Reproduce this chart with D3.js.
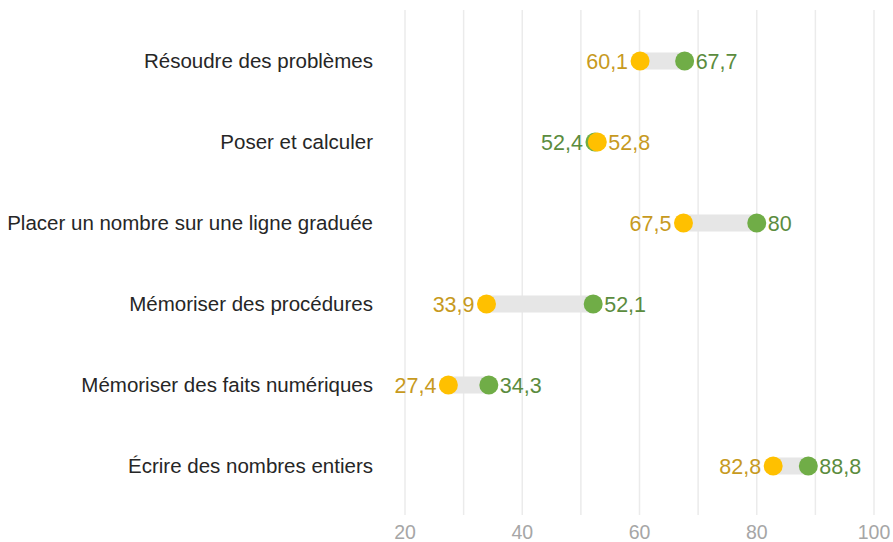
<!DOCTYPE html>
<html>
<head>
<meta charset="utf-8">
<script src="https://cdn.jsdelivr.net/npm/d3@7"></script>
<style>
  body { margin: 0; background: #fff; }
  svg { font-family: "Liberation Sans", Arial, sans-serif; }
</style>
</head>
<body>
<svg id="chart" width="893" height="542"></svg>
<script>
// competences, top to bottom
const categories = [
  "Résoudre des problèmes",
  "Poser et calculer",
  "Placer un nombre sur une ligne graduée",
  "Mémoriser des procédures",
  "Mémoriser des faits numériques",
  "Écrire des nombres entiers"
]
const orangeValues = [60.1, 52.8, 67.5, 33.9, 27.4, 82.8]
const greenValues = [67.7, 52.4, 80, 52.1, 34.3, 88.8]
const tickValues = [20, 40, 60, 80, 100]
const gridValues = [20, 30, 40, 50, 60, 70, 80, 90, 100]

const ORANGE = "#FFC000", ORANGE_TXT = "#C79A1E"
const GREEN = "#70AD47", GREEN_TXT = "#5B8C3E"

const svg = d3.select("#chart")

const x = d3.scaleLinear().domain([20, 100]).range([405, 874])
const y = d3.scalePoint().domain(categories).range([61, 466])

const rows = categories.map((c, i) => ({
  cat: c,
  orange: orangeValues[i],
  green: greenValues[i]
}))

// grid
svg.append("g")
  .selectAll("line")
  .data(gridValues)
  .join("line")
  .attr("x1", d => x(d)).attr("x2", d => x(d))
  .attr("y1", 10).attr("y2", 515)
  .attr("stroke", "#EBEBEB")
  .attr("stroke-width", 1.5)

// x axis labels (sit right at the bottom edge, like the original)
svg.append("g")
  .selectAll("text")
  .data(tickValues)
  .join("text")
  .attr("x", d => x(d))
  .attr("y", 539)
  .attr("text-anchor", "middle")
  .attr("font-size", 19.5)
  .attr("fill", "#A6A6A6")
  .text(d => d)

// category labels
svg.append("g")
  .selectAll("text")
  .data(categories)
  .join("text")
  .attr("x", 373)
  .attr("y", d => y(d))
  .attr("dy", "0.35em")
  .attr("text-anchor", "end")
  .attr("font-size", 20.5)
  .attr("fill", "#262626")
  .text(d => d)

// connecting bars
svg.append("g")
  .selectAll("rect")
  .data(rows)
  .join("rect")
  .attr("x", d => x(Math.min(d.orange, d.green)))
  .attr("width", d => Math.abs(x(d.green) - x(d.orange)))
  .attr("y", d => y(d.cat) - 8.5)
  .attr("height", 17)
  .attr("fill", "#E6E6E6")

// dots: green first, orange on top
svg.append("g")
  .selectAll("circle")
  .data(rows)
  .join("circle")
  .attr("cx", d => x(d.green))
  .attr("cy", d => y(d.cat))
  .attr("r", 9.5)
  .attr("fill", GREEN)

svg.append("g")
  .selectAll("circle")
  .data(rows)
  .join("circle")
  .attr("cx", d => x(d.orange))
  .attr("cy", d => y(d.cat))
  .attr("r", 9.5)
  .attr("fill", ORANGE)

// value labels: lower value on the left, higher on the right
const fmt = v => String(v).replace(".", ",")
const labels = []
rows.forEach(d => {
  const oLeft = d.orange <= d.green
  labels.push({cat: d.cat, v: d.orange, left: oLeft, color: ORANGE_TXT})
  labels.push({cat: d.cat, v: d.green, left: !oLeft, color: GREEN_TXT})
})

svg.append("g")
  .selectAll("text")
  .data(labels)
  .join("text")
  .attr("x", d => d.left ? x(d.v) - 12 : x(d.v) + 11)
  .attr("y", d => y(d.cat))
  .attr("dy", "0.35em")
  .attr("text-anchor", d => d.left ? "end" : "start")
  .attr("font-size", 21.5)
  .attr("fill", d => d.color)
  .text(d => fmt(d.v))
</script>
</body>
</html>
